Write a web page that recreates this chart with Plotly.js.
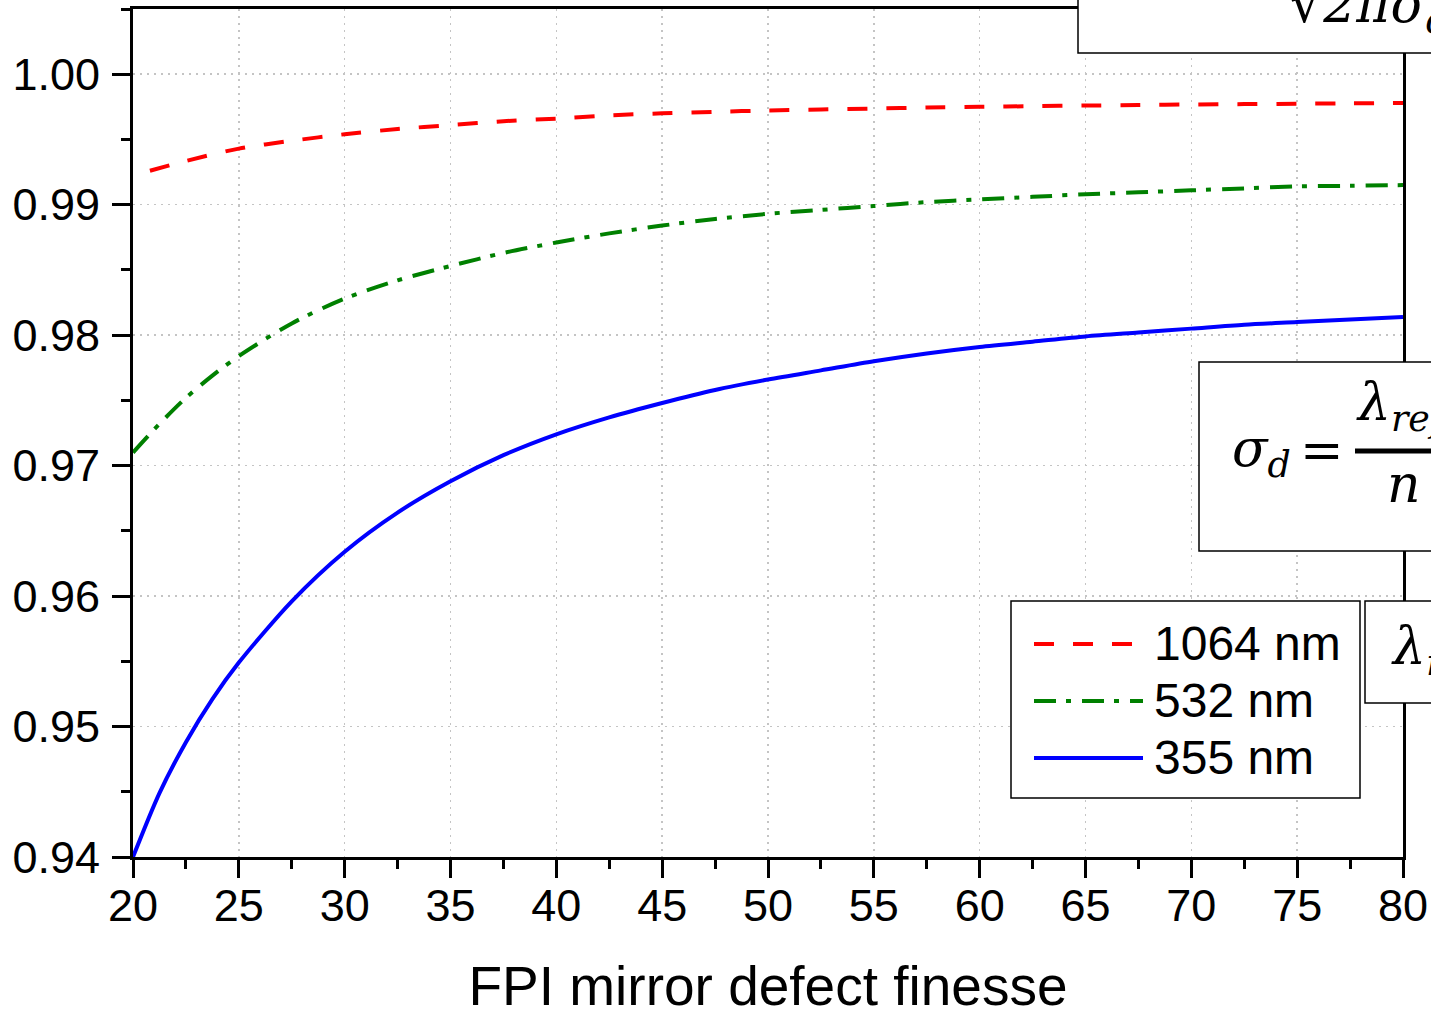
<!DOCTYPE html>
<html>
<head>
<meta charset="utf-8">
<script src="https://cdn.plot.ly/plotly-3.0.1.min.js"></script>
<style>html,body{margin:0;padding:0;background:#fff;}#chart{width:1431px;height:1017px;}</style>
</head>
<body>
<div id="chart"></div>
<script>
// ---- data ----
const finesse = [20, 21.25, 22.5, 23.75, 25, 27.5, 30, 32.5, 35, 37.5, 40, 42.5, 45, 47.5, 50, 52.5, 55, 57.5, 60, 62.5, 65, 67.5, 70, 72.5, 75, 77.5, 80];
const ratio355 = [0.9400, 0.9449, 0.9488, 0.9521, 0.9549, 0.9596, 0.9634, 0.9664, 0.9688, 0.9708, 0.9724, 0.9737, 0.9748, 0.9758, 0.9766, 0.9773, 0.9780, 0.9786, 0.9791, 0.9795, 0.9799, 0.9802, 0.9805, 0.9808, 0.9810, 0.9812, 0.9814];
const ratio532 = [0.9710, 0.9732, 0.9752, 0.9769, 0.9784, 0.9809, 0.9828, 0.9842, 0.9853, 0.9863, 0.9871, 0.9878, 0.9884, 0.9889, 0.9893, 0.9896, 0.9899, 0.9902, 0.9904, 0.9906, 0.9908, 0.99095, 0.9911, 0.99125, 0.9914, 0.99145, 0.9915];
const finesse1064 = [20.8, 22.5, 25, 27.5, 30, 32.5, 35, 37.5, 40, 42.5, 45, 47.5, 50, 52.5, 55, 57.5, 60, 62.5, 65, 67.5, 70, 72.5, 75, 77.5, 80];
const ratio1064 = [0.9926, 0.99335, 0.9943, 0.9949, 0.9954, 0.9958, 0.9961, 0.9964, 0.9966, 0.99685, 0.9970, 0.99712, 0.99722, 0.9973, 0.99737, 0.99745, 0.9975, 0.99755, 0.9976, 0.99764, 0.99768, 0.99771, 0.99774, 0.99777, 0.9978];
const seriesNames = ['1064 nm', '532 nm', '355 nm'];
const xTitle = 'FPI mirror defect finesse';
const xTicks = [20, 25, 30, 35, 40, 45, 50, 55, 60, 65, 70, 75, 80];
const yTicks = [0.94, 0.95, 0.96, 0.97, 0.98, 0.99, 1.00];

// ---- layout helpers (pixel -> paper) ----
const L = 133, R = 1403, T = 9, B = 857;
const px = v => (v - L) / (R - L);
const py = v => (B - v) / (B - T);

const seriesColors = ['#ff0000', '#008000', '#0000ff'];
const seriesDash = ['20px,19px', '22px,10px,5px,11px', 'solid'];

const traces = [
  {x: finesse1064, y: ratio1064, name: seriesNames[0], mode: 'lines',
   line: {color: seriesColors[0], width: 4, dash: seriesDash[0], shape: 'spline', smoothing: 0.8}},
  {x: finesse, y: ratio532, name: seriesNames[1], mode: 'lines',
   line: {color: seriesColors[1], width: 4, dash: seriesDash[1], shape: 'spline', smoothing: 0.8}},
  {x: finesse, y: ratio355, name: seriesNames[2], mode: 'lines',
   line: {color: seriesColors[2], width: 4, dash: seriesDash[2], shape: 'spline', smoothing: 0.8}}
];

const sans = 'Liberation Sans, Arial, sans-serif';
const axisCommon = {
  showline: true, linecolor: '#000', linewidth: 3, mirror: true,
  ticks: 'outside', ticklen: 18, tickwidth: 3, tickcolor: '#000',
  showgrid: true, gridcolor: '#c4c4c4', gridwidth: 1.5, griddash: '2px,5px',
  zeroline: false,
  tickfont: {family: sans, size: 45, color: '#000'}
};

const serif = 'DejaVu Serif, serif';
const mathFont = {family: serif, size: 52, color: '#000'};

const boxLine = {color: '#000', width: 1.5};
const shapes = [
  // formula boxes (cut by the right edge, as in the source figure)
  {type: 'rect', xref: 'paper', yref: 'paper', x0: px(1078), x1: px(1520), y0: py(53), y1: py(-30), line: boxLine, fillcolor: '#fff', layer: 'above'},
  {type: 'rect', xref: 'paper', yref: 'paper', x0: px(1199), x1: px(1520), y0: py(551), y1: py(362), line: boxLine, fillcolor: '#fff', layer: 'above'},
  {type: 'rect', xref: 'paper', yref: 'paper', x0: px(1365), x1: px(1520), y0: py(703), y1: py(601), line: boxLine, fillcolor: '#fff', layer: 'above'},
  {type: 'line', xref: 'paper', yref: 'paper', x0: px(1355), x1: px(1520), y0: py(451), y1: py(451), line: {color: '#000', width: 5}, layer: 'above'},
  // legend frame
  {type: 'rect', xref: 'paper', yref: 'paper', x0: px(1011), x1: px(1360), y0: py(798), y1: py(601), line: boxLine, fillcolor: '#fff', layer: 'above'}
];
const legendRows = [644, 701, 758];
seriesNames.forEach((n, i) => {
  shapes.push({type: 'line', xref: 'paper', yref: 'paper', x0: px(1034), x1: px(1143), y0: py(legendRows[i]), y1: py(legendRows[i]),
    line: {color: seriesColors[i], width: 4, dash: seriesDash[i]}, layer: 'above'});
});

const annotations = [
  {xref: 'paper', yref: 'paper', x: px(1288), y: py(8), xanchor: 'left', yanchor: 'middle', showarrow: false,
   text: '√<i>2πσ</i><sub><i>d</i></sub>', font: mathFont},
  {xref: 'paper', yref: 'paper', x: px(1230), y: py(452), xanchor: 'left', yanchor: 'middle', showarrow: false,
   text: '<i>σ</i><sub><i>d</i></sub>', font: mathFont},
  {xref: 'paper', yref: 'paper', x: px(1322), y: py(450), xanchor: 'center', yanchor: 'middle', showarrow: false,
   text: '=', font: mathFont},
  {xref: 'paper', yref: 'paper', x: px(1354), y: py(406), xanchor: 'left', yanchor: 'middle', showarrow: false,
   text: '<i>λ</i><sub><i>ref</i></sub>', font: mathFont},
  {xref: 'paper', yref: 'paper', x: px(1404), y: py(484), xanchor: 'center', yanchor: 'middle', showarrow: false,
   text: '<i>n</i>', font: mathFont},
  {xref: 'paper', yref: 'paper', x: px(1389), y: py(650), xanchor: 'left', yanchor: 'middle', showarrow: false,
   text: '<i>λ</i><sub><i>ref</i></sub>', font: mathFont}
];
seriesNames.forEach((n, i) => {
  annotations.push({xref: 'paper', yref: 'paper', x: px(1152), y: py(legendRows[i] - 1), xanchor: 'left', yanchor: 'middle',
    showarrow: false, text: n, font: {family: sans, size: 48, color: '#000'}});
});

const layout = {
  width: 1431, height: 1017,
  margin: {l: L, r: 1431 - R, t: T, b: 1017 - B},
  paper_bgcolor: '#fff', plot_bgcolor: '#fff',
  showlegend: false,
  xaxis: Object.assign({}, axisCommon, {
    range: [20, 80], tickvals: xTicks, ticktext: xTicks.map(String), ticklabelstandoff: -11,
    minor: {dtick: 2.5, ticklen: 9, tickwidth: 3, tickcolor: '#000', ticks: 'outside', showgrid: false},
    title: {text: xTitle, font: {family: sans, size: 55, color: '#000'}, standoff: 41}
  }),
  yaxis: Object.assign({}, axisCommon, {
    range: [0.94, 1.005], tickvals: yTicks, ticktext: yTicks.map(v => v.toFixed(2)), ticklabelstandoff: 3,
    minor: {dtick: 0.005, ticklen: 9, tickwidth: 3, tickcolor: '#000', ticks: 'outside', showgrid: false}
  }),
  shapes: shapes,
  annotations: annotations
};

Plotly.newPlot('chart', traces, layout, {displayModeBar: false, staticPlot: true});
</script>
</body>
</html>
